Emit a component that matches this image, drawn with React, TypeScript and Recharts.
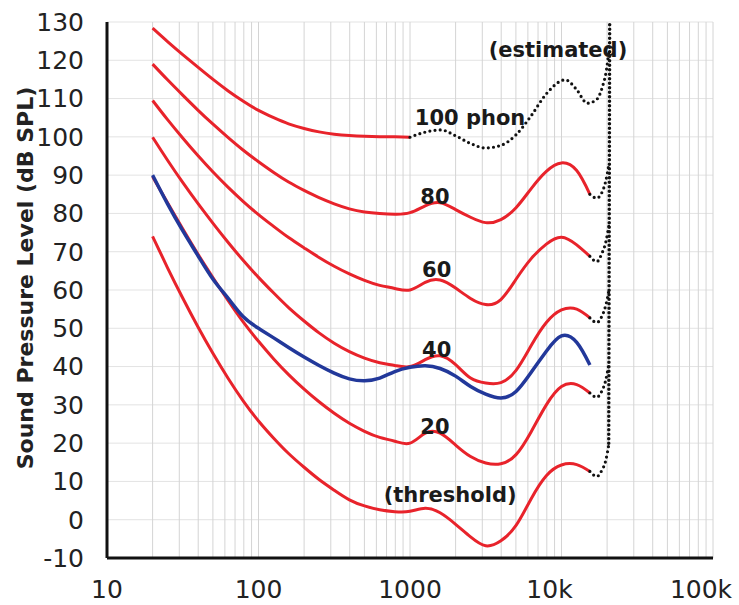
import { LineChart, Line, XAxis, YAxis, CartesianGrid, ReferenceLine, ReferenceDot } from 'recharts';

// frequencies (Hz) the contours are read at, tenth-decade steps
const freqs = [20, 25.1, 31.6, 39.8, 50.1, 63.1, 79.4, 100, 126, 158, 200, 251, 316, 398, 501, 631, 794, 1000, 1260, 1580, 2000, 2510, 3160, 3980, 5010, 6310, 7940, 10000, 12600, 15400];

// ISO 226:2003 contours, dB SPL
const threshold = [74, 65.8, 57.9, 50.4, 43.4, 36.9, 31.0, 25.8, 21.3, 17.3, 13.7, 10.5, 7.7, 5.2, 3.6, 2.6, 2.1, 2.2, 3.0, 1.8, -1.2, -4.5, -6.8, -5.5, -1.5, 5.5, 11.5, 14.3, 14.4, 12.6];
const phon20 = [89.6, 82.8, 76.0, 69.4, 63.2, 57.2, 51.6, 46.6, 42.0, 37.9, 34.1, 30.8, 27.8, 25.2, 23.1, 21.5, 20.5, 20, 22.6, 22.6, 19.5, 16.5, 14.8, 14.6, 17, 23, 30, 34.8, 35.3, 33.1];
const phon40 = [99.9, 93.9, 88.1, 82.6, 77.4, 72.4, 67.7, 63.3, 59.2, 55.4, 51.9, 48.8, 46.1, 43.9, 42.2, 41.0, 40.3, 40, 41.8, 42.8, 40.5, 37, 35.7, 35.8, 39, 45.5, 51.5, 54.8, 55, 52.7];
const phon60 = [109.5, 104.5, 99.7, 95.1, 90.8, 86.8, 83.1, 79.7, 76.6, 73.7, 71.0, 68.5, 66.2, 64.2, 62.5, 61.2, 60.4, 60, 62, 62.6, 60.5, 57.8, 56.2, 57.5, 62.8, 68.2, 72.0, 73.8, 71.8, 68.8];
const phon80 = [119, 114.9, 110.9, 107.0, 103.3, 99.8, 96.5, 93.5, 90.7, 88.2, 86.0, 84.1, 82.5, 81.2, 80.4, 80.0, 79.8, 80.2, 82, 82.8, 81, 79, 77.6, 78.4, 81.5, 86.5, 91, 93.2, 91.2, 85];
const phon100 = [128.4, 124.9, 121.5, 118.2, 115.0, 112.0, 109.3, 106.9, 105.0, 103.4, 102.2, 101.3, 100.7, 100.35, 100.15, 100.05, 100.0, 99.9];

// original ISO 40 phon contour (blue)
const original40 = [90, 82.5, 75.5, 69, 62.8, 57.8, 53, 50, 47.5, 45, 42.5, 40.3, 38.3, 36.8, 36.3, 37, 38.7, 39.8, 40.2, 39.5, 37.5, 34.8, 32.8, 31.8, 33.5, 38.5, 44, 48, 46.3, 40.4];

// estimated (dotted) parts
const est100Freqs = [1000, 1250, 1600, 2000, 2500, 3150, 4000, 5000, 6300, 8000, 10600, 12500, 14800, 17000, 18600, 19800, 20500];
const est100 = [99.9, 101.2, 101.8, 100.3, 98.3, 97.1, 97.8, 100.5, 105.5, 111.4, 114.9, 112.5, 108.8, 109.7, 113, 117.5, 122];
const tailFreqs = [15400, 17100, 18400, 19600, 20600];
const tailThreshold = [12.6, 11.3, 12.8, 15.5, 20];
const tail20 = [33.1, 32, 33.5, 36.5, 41];
const tail40 = [52.7, 51.5, 53, 56, 60];
const tail60 = [68.8, 67.4, 69.4, 72.5, 77];
const tail80 = [85, 84, 85.3, 88.5, 93];
const edgeFreqs = [20500, 20800];
const edgeDb = [20, 130];

const xTicks = [10, 100, 1000, 10000, 100000];
const yTicks = [-10, 0, 10, 20, 30, 40, 50, 60, 70, 80, 90, 100, 110, 120, 130];

// curve labels: text, frequency, level
const labelText = ['100 phon', '80', '60', '40', '20', '(threshold)', '(estimated)'];
const labelFreq = [2490, 1460, 1500, 1500, 1460, 1840, 9480];
const labelDb = [105, 84.3, 65.3, 44.4, 24.3, 6.5, 122.7];

const RED = '#e8232b';
const BLUE = '#22389a';
const FONT = 'DejaVu Sans, Verdana, sans-serif';

const pts = (fs: number[], vs: number[]) => fs.map((f, i) => ({ f, db: vs[i] }));

const minorGrid = [10, 100, 1000, 10000].flatMap((d) => [2, 3, 4, 5, 6, 7, 8, 9].map((m) => m * d)).concat([100, 1000, 10000, 100000]);

const fmtFreq = (v: number) => (v >= 10000 ? `${v / 1000}k` : `${v}`);

const XTick = (props: any) => {
  const { x, y, payload } = props;
  const text = fmtFreq(payload.value);
  const dx = text.endsWith('k') ? -12 : 0;
  return (
    <text x={x + dx} y={y} dy="0.71em" textAnchor="middle" fontSize={25} fill="#222" fontFamily={FONT}>
      {text}
    </text>
  );
};

const curveLabel = (text: string) => (props: any) => {
  const vb = props.viewBox;
  const cx = vb.x + (vb.width || 0) / 2;
  const cy = vb.y + (vb.height || 0) / 2;
  return (
    <text x={cx} y={cy} textAnchor="middle" dominantBaseline="central" fontSize={21} fontWeight="bold" fill="#1a1a1a" fontFamily={FONT}>
      {text}
    </text>
  );
};

const yLabel = (props: any) => {
  const vb = props.viewBox;
  const cx = vb.x + 25;
  const cy = vb.y + vb.height / 2 - 12;
  return (
    <text x={cx} y={cy} transform={`rotate(-90 ${cx} ${cy})`} textAnchor="middle" dominantBaseline="central" fontSize={22} fontWeight="bold" fill="#222" fontFamily={FONT}>
      Sound Pressure Level (dB SPL)
    </text>
  );
};

const dotted = { stroke: '#111', strokeWidth: 3.2, strokeDasharray: '0 5.2', strokeLinecap: 'round' as const };

export default function App() {
  const redSeries = [threshold, phon20, phon40, phon60, phon80];
  const tails = [tailThreshold, tail20, tail40, tail60, tail80];
  return (
    <div style={{ position: 'absolute', left: 0, top: 0, background: '#fff' }}>
      <LineChart width={739} height={605} margin={{ top: 22, right: 26, bottom: 0, left: 0 }} style={{ fontFamily: FONT }}>
        <CartesianGrid vertical={false} stroke="#e3e3e3" strokeWidth={1} />
        {minorGrid.map((v) => (
          <ReferenceLine key={`g${v}`} x={v} stroke="#d4d4d4" strokeWidth={1} ifOverflow="discard" />
        ))}
        <XAxis
          dataKey="f"
          type="number"
          scale="log"
          domain={[10, 100000]}
          ticks={xTicks}
          allowDataOverflow
          height={47}
          axisLine={{ stroke: '#111', strokeWidth: 3 }}
          tickLine={false}
          tickSize={8}
          tickMargin={14}
          tick={<XTick />}
        />
        <YAxis
          dataKey="db"
          type="number"
          domain={[-10, 130]}
          ticks={yTicks}
          allowDataOverflow
          width={107}
          axisLine={{ stroke: '#111', strokeWidth: 3 }}
          tickLine={false}
          tickSize={8}
          tickMargin={15}
          tick={{ fontSize: 25, fill: '#222', fontFamily: FONT }}
          label={{ content: yLabel }}
        />
        {redSeries.map((s, i) => (
          <Line key={`r${i}`} data={pts(freqs, s)} dataKey="db" type="natural" stroke={RED} strokeWidth={3} dot={false} activeDot={false} isAnimationActive={false} />
        ))}
        <Line data={pts(freqs.slice(0, phon100.length), phon100)} dataKey="db" type="natural" stroke={RED} strokeWidth={3} dot={false} activeDot={false} isAnimationActive={false} />
        <Line data={pts(freqs, original40)} dataKey="db" type="natural" stroke={BLUE} strokeWidth={3.5} dot={false} activeDot={false} isAnimationActive={false} />
        <Line data={pts(est100Freqs, est100)} dataKey="db" type="monotone" {...dotted} dot={false} activeDot={false} isAnimationActive={false} />
        {tails.map((s, i) => (
          <Line key={`t${i}`} data={pts(tailFreqs, s)} dataKey="db" type="monotone" {...dotted} dot={false} activeDot={false} isAnimationActive={false} />
        ))}
        <Line data={pts(edgeFreqs, edgeDb)} dataKey="db" type="linear" {...dotted} strokeDasharray="0 4.5" strokeWidth={3.5} dot={false} activeDot={false} isAnimationActive={false} />
        {labelText.map((t, i) => (
          <ReferenceDot key={`l${i}`} x={labelFreq[i]} y={labelDb[i]} r={0} fill="none" stroke="none" label={{ content: curveLabel(t) }} />
        ))}
      </LineChart>
    </div>
  );
}
